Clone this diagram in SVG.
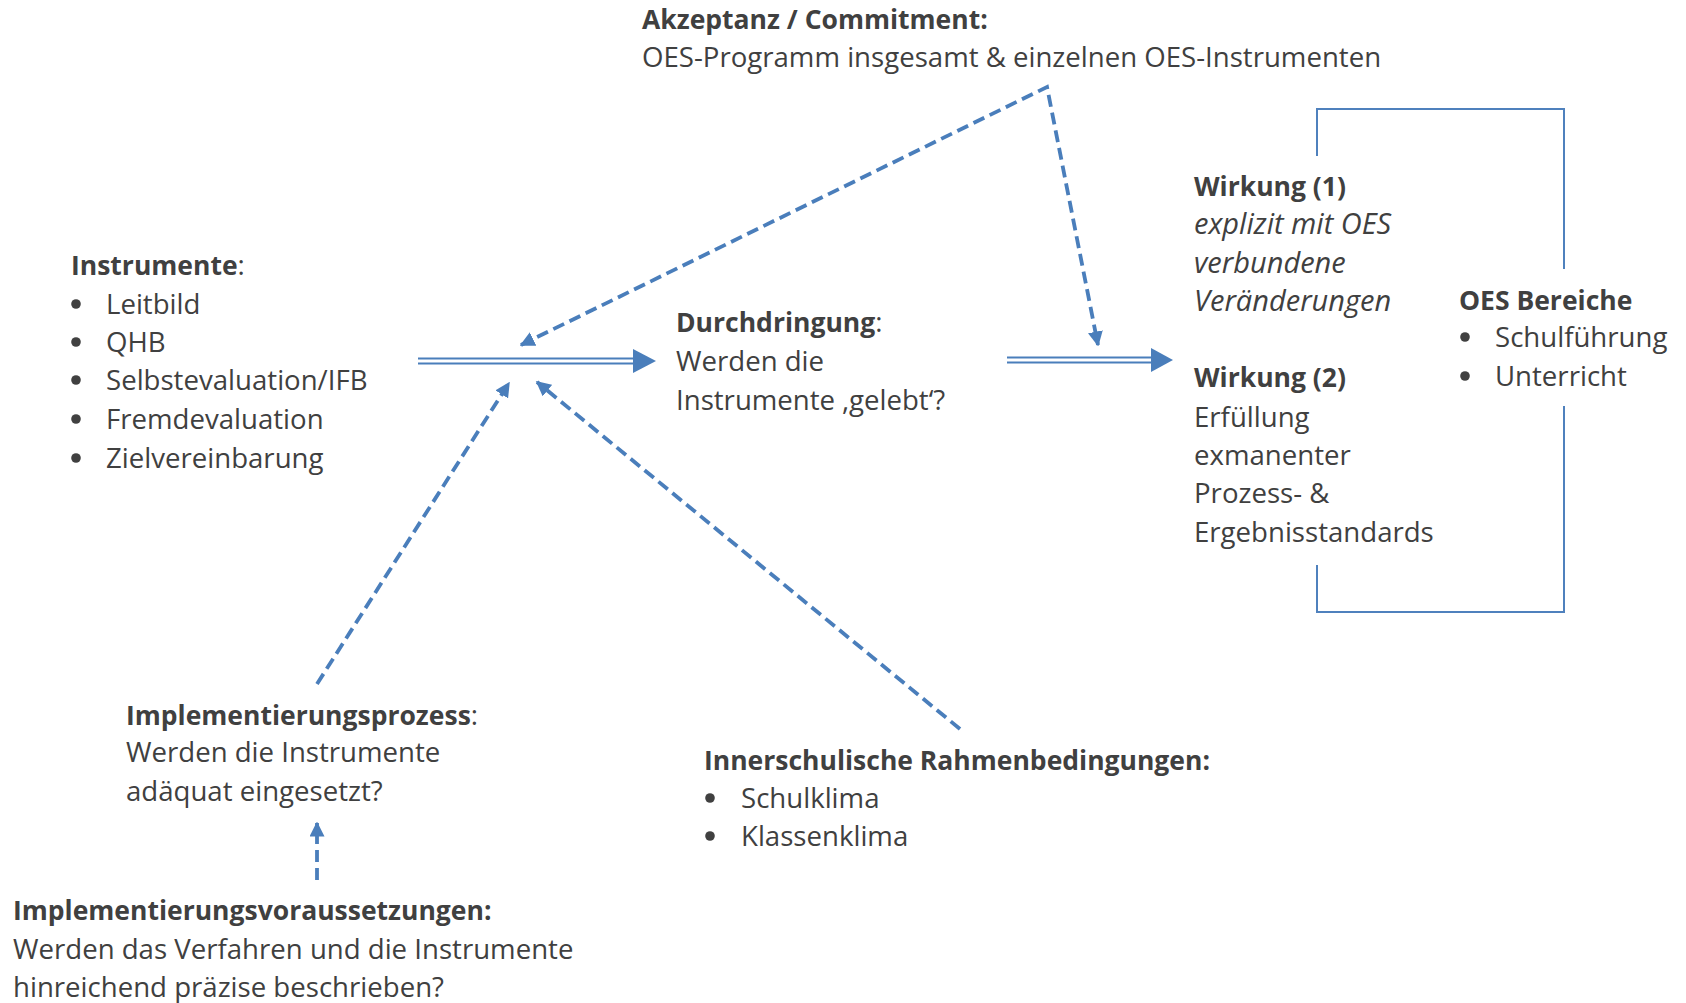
<svg xmlns="http://www.w3.org/2000/svg" width="1686" height="1003" viewBox="0 0 1686 1003">
<defs>
<style>
text{font-family:"Open Sans","Noto Sans","Liberation Sans",sans-serif;font-size:27.6px;fill:#404040}
.b{font-weight:bold;font-size:26.5px}
.i{font-style:italic;font-size:29px}
.bu{fill:#404040}
.dash{fill:none;stroke:#4A7EBB;stroke-width:3.8;stroke-dasharray:12 6}
.dl{fill:none;stroke:#4A7EBB;stroke-width:2.2}
.br{fill:none;stroke:#4F81BD;stroke-width:2}
.head{fill:#4A7EBB}
</style>
<marker id="ah" viewBox="0 0 10 10" refX="9" refY="5" markerWidth="15" markerHeight="15" markerUnits="userSpaceOnUse" orient="auto-start-reverse">
<path d="M0,0 L10,5 L0,10 z" fill="#4A7EBB"/>
</marker>
</defs>
<rect width="1686" height="1003" fill="#ffffff"/>

<g id="connectors">
<path class="dash" d="M521,345 L1047,87 L1098,345" marker-start="url(#ah)" marker-end="url(#ah)"/>
<path class="dash" d="M317,684 L509,383" marker-end="url(#ah)"/>
<path class="dash" d="M960,729 L537,382" marker-end="url(#ah)"/>
<path class="dash" d="M317,880 L317,823" marker-end="url(#ah)"/>
<line class="dl" x1="418" y1="358.5" x2="640" y2="358.5"/>
<line class="dl" x1="418" y1="363.5" x2="640" y2="363.5"/>
<polygon class="head" points="633,349 656,361 633,373"/>
<line class="dl" x1="1007" y1="357.5" x2="1158" y2="357.5"/>
<line class="dl" x1="1007" y1="362.5" x2="1158" y2="362.5"/>
<polygon class="head" points="1151,348 1173,360 1151,372"/>
<path class="br" d="M1317,156 V109 H1564 V269 M1564,406 V612 H1317 V565"/>
</g>

<g id="akzeptanz">
<text x="642" y="29" class="b">Akzeptanz / Commitment:</text>
<text x="642" y="67">OES-Programm insgesamt &amp; einzelnen OES-Instrumenten</text>
</g>

<g id="instrumente">
<text x="71" y="275"><tspan class="b">Instrumente</tspan>:</text>
<circle class="bu" cx="76" cy="304" r="4.8"/><text x="106" y="314">Leitbild</text>
<circle class="bu" cx="76" cy="342" r="4.8"/><text x="106" y="352">QHB</text>
<circle class="bu" cx="76" cy="380" r="4.8"/><text x="106" y="390">Selbstevaluation/IFB</text>
<circle class="bu" cx="76" cy="419" r="4.8"/><text x="106" y="429">Fremdevaluation</text>
<circle class="bu" cx="76" cy="458" r="4.8"/><text x="106" y="468">Zielvereinbarung</text>
</g>

<g id="durchdringung">
<text x="676" y="332"><tspan class="b">Durchdringung</tspan>:</text>
<text x="676" y="371">Werden die</text>
<text x="676" y="410">Instrumente ‚gelebt‘?</text>
</g>

<g id="wirkung">
<text x="1194" y="196" class="b">Wirkung (1)</text>
<text x="1194" y="234" class="i">explizit mit OES</text>
<text x="1194" y="273" class="i">verbundene</text>
<text x="1194" y="311" class="i">Veränderungen</text>
<text x="1194" y="387" class="b">Wirkung (2)</text>
<text x="1194" y="427">Erfüllung</text>
<text x="1194" y="465">exmanenter</text>
<text x="1194" y="503">Prozess- &amp;</text>
<text x="1194" y="542">Ergebnisstandards</text>
</g>

<g id="oes-bereiche">
<text x="1459" y="310" class="b">OES Bereiche</text>
<circle class="bu" cx="1465" cy="337" r="4.8"/><text x="1495" y="347">Schulführung</text>
<circle class="bu" cx="1465" cy="376" r="4.8"/><text x="1495" y="386">Unterricht</text>
</g>

<g id="implementierungsprozess">
<text x="126" y="725"><tspan class="b">Implementierungsprozess</tspan>:</text>
<text x="126" y="762">Werden die Instrumente</text>
<text x="126" y="801">adäquat eingesetzt?</text>
</g>

<g id="rahmenbedingungen">
<text x="704" y="770" class="b">Innerschulische Rahmenbedingungen:</text>
<circle class="bu" cx="710" cy="798" r="4.8"/><text x="741" y="808">Schulklima</text>
<circle class="bu" cx="710" cy="836" r="4.8"/><text x="741" y="846">Klassenklima</text>
</g>

<g id="voraussetzungen">
<text x="13" y="920" class="b">Implementierungsvoraussetzungen:</text>
<text x="13" y="959">Werden das Verfahren und die Instrumente</text>
<text x="13" y="997">hinreichend präzise beschrieben?</text>
</g>
</svg>
